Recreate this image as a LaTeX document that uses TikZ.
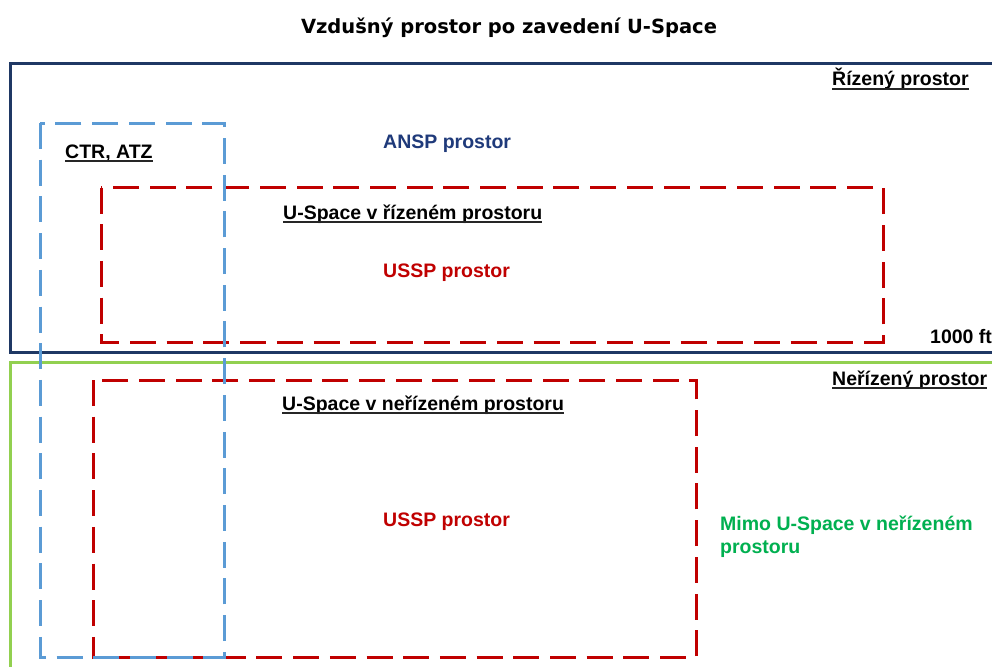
\documentclass[tikz,border=0pt]{standalone}
\usepackage{fontspec}
\setmainfont{Liberation Sans}
\newfontfamily\titlefont{DejaVu Sans}
\definecolor{navy}{HTML}{1F3864}
\definecolor{ansp}{HTML}{1F3A7A}
\definecolor{ured}{HTML}{C00000}
\definecolor{lgreen}{HTML}{92D050}
\definecolor{tgreen}{HTML}{00B050}
\definecolor{lblue}{HTML}{5B9BD5}
\begin{document}
\begin{tikzpicture}[x=1pt,y=-1pt,
  lbl/.style={inner sep=0pt, font=\bfseries\fontsize{19.5}{23}\selectfont, anchor=base west},
  frame/.style={line width=3pt},
  dashbox/.style={line width=3pt, dash pattern=on 26pt off 10.7pt},
  ulline/.style={line width=1.5pt, black!85}]
\useasboundingbox[fill=white] (0,0) rectangle (992,666);
\begin{scope}
\clip (0,0) rectangle (992,666);
\draw[frame, navy] (10,63.5) rectangle (1010,352.5);
\draw[frame, lgreen] (10,362) rectangle (1010,690);
\draw[dashbox, ured] (101,187.5) rectangle (883,342);
\draw[dashbox, ured] (93,380) rectangle (696,657);
\draw[dashbox, lblue] (40,123) rectangle (224,657);
\end{scope}
\node[lbl, anchor=base] (title) at (509,33.5) {\titlefont\bfseries\fontsize{19.5}{23}\selectfont Vzdušný prostor po zavedení U-Space};
\node[lbl] (rizeny) at (832,86) {Řízený prostor};
\node[lbl] (ctr) at (65,158) {CTR, ATZ};
\node[lbl, text=ansp] (ansp) at (383,148) {ANSP prostor};
\node[lbl] (usr) at (283,219) {U-Space v řízeném prostoru};
\node[lbl, text=ured] (ussp1) at (383,277) {USSP prostor};
\node[lbl] (ft) at (930,343) {1000 ft};
\node[lbl] (nerizeny) at (832,385) {Neřízený prostor};
\node[lbl] (usn) at (282,410) {U-Space v neřízeném prostoru};
\node[lbl, text=ured] (ussp2) at (383,526) {USSP prostor};
\node[lbl, text=tgreen] (mimo1) at (720,530) {Mimo U-Space v neřízeném};
\node[lbl, text=tgreen] (mimo2) at (720,553) {prostoru};
\foreach \n in {rizeny,ctr,usr,nerizeny,usn}
  \draw[ulline] ([yshift=-3pt]\n.base west) -- ([yshift=-3pt]\n.base east);
\end{tikzpicture}
\end{document}
